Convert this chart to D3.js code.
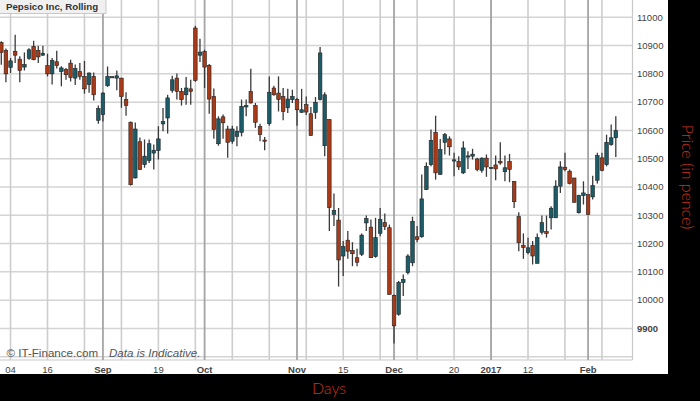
<!DOCTYPE html>
<html><head><meta charset="utf-8">
<script src="https://cdn.jsdelivr.net/npm/d3@7"></script>
<style>body{margin:0;background:#000;} svg{display:block}</style>
</head><body>
<svg id="c" width="700" height="401"></svg>
<script>
const openV =[10911,10883,10823,10880,10852,10824,10855,10897,10883,10866,10829,10800,10843,10808,10815,10838,10785,10808,10791,10762,10791,10636,10656,10758,10788,10785,10785,10709,10629,10432,10560,10479,10494,10520,10529,10623,10644,10742,10785,10738,10726,10747,10962,10866,10879,10830,10720,10553,10648,10605,10562,10579,10593,10683,10738,10688,10614,10566,10624,10750,10732,10720,10680,10709,10709,10664,10691,10659,10664,10709,10546,10638,10303,10283,10156,10212,10176,10150,10162,10273,10258,10154,10236,10274,10256,10017,9950,10062,10097,10132,10224,10224,10391,10479,10593,10444,10558,10570,10495,10491,10450,10508,10509,10499,10459,10502,10467,10478,10491,10454,10490,10420,10295,10193,10168,10193,10130,10240,10242,10291,10291,10403,10470,10456,10432,10309,10370,10373,10365,10424,10503,10479,10550,10574];
const highV =[10915,10890,10856,10938,10862,10876,10891,10917,10899,10899,10871,10856,10882,10827,10821,10850,10833,10838,10846,10805,10805,10688,10735,10826,10791,10812,10786,10735,10632,10628,10575,10568,10568,10550,10615,10679,10726,10793,10801,10750,10789,10779,10970,10924,10885,10835,10748,10650,10656,10617,10617,10615,10709,10709,10818,10697,10624,10577,10791,10758,10791,10750,10747,10744,10715,10747,10720,10683,10718,10895,10735,10640,10377,10326,10209,10244,10205,10182,10236,10299,10285,10291,10326,10306,10267,10020,10068,10091,10162,10295,10262,10444,10487,10603,10652,10570,10591,10579,10521,10509,10562,10526,10535,10503,10505,10515,10470,10511,10558,10511,10517,10420,10311,10236,10221,10209,10236,10299,10299,10332,10424,10491,10521,10462,10432,10373,10420,10373,10440,10521,10521,10585,10621,10650];
const lowV  =[10832,10770,10803,10838,10770,10812,10850,10848,10838,10864,10791,10762,10819,10756,10779,10773,10761,10779,10730,10733,10706,10624,10632,10754,10787,10742,10680,10652,10405,10430,10460,10468,10485,10462,10497,10597,10589,10733,10709,10688,10691,10691,10772,10842,10750,10659,10571,10546,10571,10503,10553,10544,10579,10650,10695,10609,10562,10530,10617,10723,10667,10636,10662,10697,10617,10662,10655,10580,10641,10706,10509,10244,10262,10048,10085,10146,10120,10120,10156,10244,10150,10150,10226,10248,10020,9847,9945,10015,10091,10120,10205,10221,10389,10473,10426,10444,10515,10511,10438,10460,10446,10464,10497,10456,10450,10436,10466,10424,10479,10420,10417,10326,10173,10146,10162,10126,10130,10232,10221,10250,10291,10379,10456,10409,10344,10306,10338,10303,10356,10412,10456,10473,10546,10506];
const closeV=[10876,10800,10846,10866,10812,10833,10885,10850,10860,10873,10800,10848,10829,10821,10797,10787,10819,10791,10747,10803,10726,10677,10732,10791,10790,10793,10720,10688,10408,10605,10462,10509,10553,10530,10570,10631,10715,10779,10738,10709,10750,10738,10777,10877,10824,10711,10603,10641,10627,10558,10605,10596,10685,10688,10697,10629,10585,10565,10735,10726,10709,10667,10711,10720,10673,10673,10665,10582,10699,10874,10726,10327,10317,10142,10189,10173,10164,10134,10230,10288,10150,10221,10285,10260,10020,9909,10062,10073,10156,10279,10215,10358,10473,10565,10450,10532,10585,10542,10496,10471,10538,10510,10516,10462,10502,10471,10469,10464,10485,10468,10462,10348,10203,10186,10185,10156,10221,10274,10236,10325,10403,10471,10462,10412,10346,10370,10379,10303,10405,10511,10459,10558,10574,10600];

const priceTicks=[9900,10000,10100,10200,10300,10400,10500,10600,10700,10800,10900,11000];
const gridValues=[9800,9900,10000,10100,10200,10300,10400,10500,10600,10700,10800,10900,11000];
const weekIdx=[2,10,18,26,34,42,50,58,66,74,82,90,98,106,114,122,130];
const monthIdx=[22,44,64,85,106,127];
const labelIdx=[2,10,22,34,44,64,74,85,98,106,114,127];
const labelText=["04","16","Sep","19","Oct","Nov","15","Dec","20","2017","12","Feb"];
const boldLabels=["Sep","Oct","Nov","Dec","2017","Feb"];

const n=openV.length;
const svg=d3.select("#c");
const x=d3.scaleLinear().domain([0,n-1]).range([1.3,615.8]);
const y=d3.scaleLinear().domain([9800,11000]).range([356.7,17.3]);
const PW=632.5, PH=360;

svg.append("rect").attr("width",700).attr("height",401).attr("fill","#000");
svg.append("rect").attr("width",668).attr("height",374).attr("fill","#fff");

const g=svg.append("g");
g.selectAll("line.h").data(gridValues).join("line")
 .attr("x1",0).attr("x2",PW).attr("y1",d=>y(d)).attr("y2",d=>y(d))
 .attr("stroke","#d4d4d4").attr("stroke-width",1.5);
g.append("line").attr("x1",0).attr("x2",PW).attr("y1",PH).attr("y2",PH).attr("stroke","#c8c8c8").attr("stroke-width",1.2);
g.selectAll("line.w").data(weekIdx).join("line")
 .attr("x1",d=>x(d)).attr("x2",d=>x(d)).attr("y1",0).attr("y2",PH)
 .attr("stroke","#cdcdcd").attr("stroke-width",1.6);
g.selectAll("line.m").data(monthIdx).join("line")
 .attr("x1",d=>x(d)).attr("x2",d=>x(d)).attr("y1",0).attr("y2",PH)
 .attr("stroke","#a5a5a5").attr("stroke-width",1.8);
g.append("line").attr("x1",PW).attr("x2",PW).attr("y1",0).attr("y2",PH).attr("stroke","#c8c8c8").attr("stroke-width",1.2);

const idx=d3.range(n);
const cg=svg.append("g");
cg.selectAll("line.wick").data(idx).join("line")
 .attr("x1",i=>x(i)).attr("x2",i=>x(i))
 .attr("y1",i=>y(highV[i])).attr("y2",i=>y(lowV[i]))
 .attr("stroke","#3a3a3a").attr("stroke-width",1.3);
const bw=3.6;
cg.selectAll("rect.body").data(idx).join("rect")
 .attr("x",i=>x(i)-bw/2).attr("width",bw)
 .attr("y",i=>y(Math.max(openV[i],closeV[i])))
 .attr("height",i=>Math.max(1.2,Math.abs(y(openV[i])-y(closeV[i]))))
 .attr("fill",i=>closeV[i]<openV[i]?"#a83a18":"#1b5c68")
 .attr("stroke","#222").attr("stroke-width",0.6);

svg.selectAll("text.yl").data(priceTicks).join("text")
 .attr("x",637).attr("y",d=>y(d)).attr("dy","0.35em")
 .attr("font-family","Liberation Sans, Arial, sans-serif").attr("font-size",9.5)
 .attr("font-weight",d=>d===9900?"bold":"normal")
 .attr("fill","#444").text(d=>d);

svg.selectAll("text.xl").data(labelIdx).join("text")
 .attr("x",d=>x(d)).attr("y",372.5).attr("text-anchor","middle")
 .attr("font-family","Liberation Sans, Arial, sans-serif").attr("font-size",9.5)
 .attr("font-weight",(d,k)=>boldLabels.includes(labelText[k])?"bold":"normal")
 .attr("fill","#444").text((d,k)=>labelText[k]);

svg.append("rect").attr("x",-1).attr("y",-1).attr("width",107).attr("height",14.5)
 .attr("fill","#f0f0f0").attr("stroke","#c8c8c8").attr("stroke-width",1);
svg.append("text").attr("x",6).attr("y",9.8)
 .attr("font-family","Liberation Sans, Arial, sans-serif").attr("font-size",9.7).attr("font-weight","bold")
 .attr("fill","#333").text("Pepsico Inc, Rolling");

svg.append("text").attr("x",6.5).attr("y",356.5)
 .attr("font-family","Liberation Sans, Arial, sans-serif").attr("font-size",11.6)
 .attr("fill","#555").text("© IT-Finance.com");
svg.append("text").attr("x",109).attr("y",356.5)
 .attr("font-family","Liberation Sans, Arial, sans-serif").attr("font-size",11.6).attr("font-style","italic")
 .attr("fill","#555").text("Data is Indicative.");

svg.append("text").attr("x",329).attr("y",394).attr("text-anchor","middle")
 .attr("font-family","Lato, 'DejaVu Sans', sans-serif").attr("font-size",16).attr("font-weight",300)
 .attr("fill","#c8331f").text("Days");
svg.append("text").attr("transform","translate(682,177) rotate(90)").attr("text-anchor","middle")
 .attr("font-family","Lato, 'DejaVu Sans', sans-serif").attr("font-size",16).attr("font-weight",300)
 .attr("fill","#c8331f").text("Price (in pence)");
</script>
</body></html>
